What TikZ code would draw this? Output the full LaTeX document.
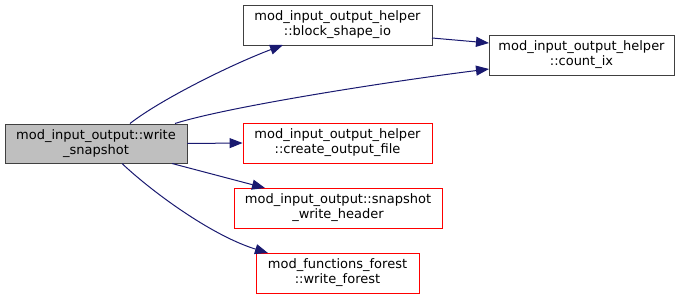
\documentclass[tikz,border=0pt]{standalone}
\usepackage{fontspec}
\setmainfont{DejaVu Sans}
\usetikzlibrary{arrows.meta}
\definecolor{edgeblue}{RGB}{25,25,112}
\definecolor{boxgray}{RGB}{64,64,64}
\definecolor{fillgray}{RGB}{191,191,191}
\tikzset{
  box/.style={draw=boxgray,line width=0.9pt,fill=white,inner sep=0pt,align=center,
    font=\fontsize{13}{15}\selectfont},
  redbox/.style={box,draw=red},
  mainbox/.style={box,fill=fillgray},
  edge/.style={draw=edgeblue,line width=1pt,arrows={-Triangle[length=13pt,width=10pt,fill=edgeblue]}}
}
\begin{document}
\begin{tikzpicture}[x=1pt,y=-1pt]
\useasboundingbox (0,0) rectangle (683,300);
\node[mainbox,minimum width=182pt,minimum height=39pt] (ws) at (96,143.5) {mod\_input\_output::write\\\_snapshot};
\node[box,minimum width=189pt,minimum height=40pt] (bs) at (337.5,25) {mod\_input\_output\_helper\\::block\_shape\_io};
\node[box,minimum width=185pt,minimum height=40pt] (ci) at (581.5,55) {mod\_input\_output\_helper\\::count\_ix};
\node[redbox,minimum width=189pt,minimum height=40pt] (co) at (337.5,143) {mod\_input\_output\_helper\\::create\_output\_file};
\node[redbox,minimum width=208pt,minimum height=40pt] (sh) at (338,208) {mod\_input\_output::snapshot\\\_write\_header};
\node[redbox,minimum width=163pt,minimum height=40pt] (wf) at (337.5,273) {mod\_functions\_forest\\::write\_forest};
\coordinate (e1s) at (130,123.5);
\coordinate (e1e) at (283,45);
\draw[edge] (e1s) .. controls (160,100) and (230,65) .. (e1e);
\coordinate (e2s) at (175,123.5);
\coordinate (e2e) at (489,69);
\draw[edge] (e2s) .. controls (230,106) and (400,80) .. (e2e);
\draw[edge] (ws.east) -- (co.west);
\coordinate (e4s) at (172,163.5);
\coordinate (e4e) at (265,188);
\draw[edge] (e4s) -- (e4e);
\coordinate (e5s) at (122,163.5);
\coordinate (e5e) at (268,253);
\draw[edge] (e5s) .. controls (150,190) and (210,235) .. (e5e);
\coordinate (e6s) at (432,38);
\coordinate (e6e) at (489,43);
\draw[edge] (e6s) -- (e6e);
\end{tikzpicture}
\end{document}
